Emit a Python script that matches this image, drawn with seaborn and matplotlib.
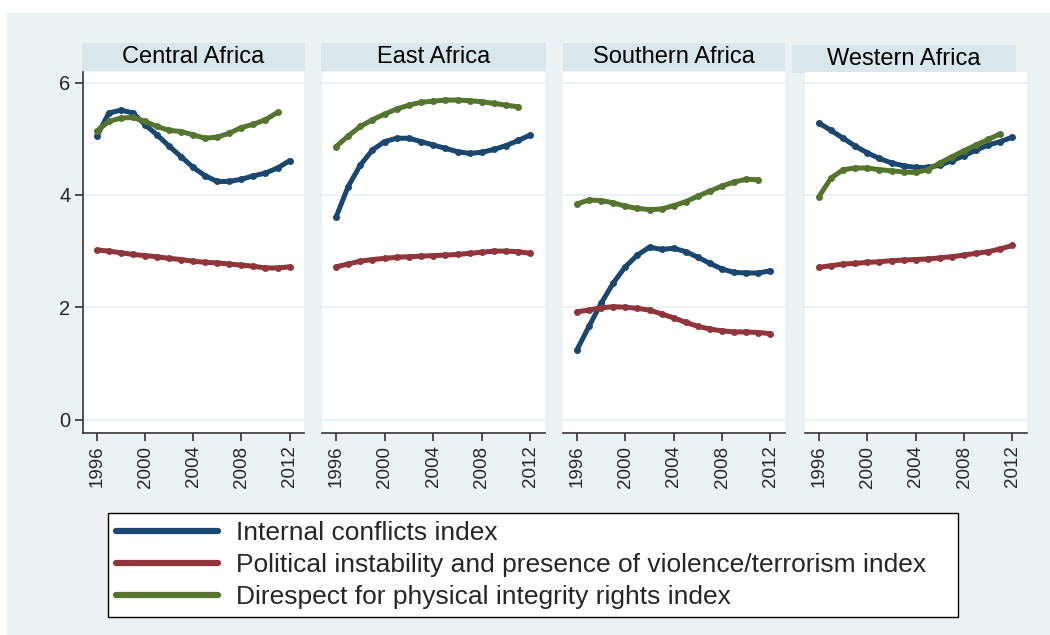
import numpy as np
import pandas as pd
import matplotlib
matplotlib.use("Agg")
import matplotlib.pyplot as plt
from matplotlib.patches import Rectangle
from matplotlib.lines import Line2D
import seaborn as sns

# Values
YEARS = list(range(1996, 2013))
REGIONS = ['Central Africa', 'East Africa', 'Southern Africa', 'Western Africa']
SERIES = [
    'Internal conflicts index',
    'Political instability and presence of violence/terrorism index',
    'Direspect for physical integrity rights index',
]

central_conflict = [5.05, 5.46, 5.51, 5.46, 5.25, 5.07, 4.87, 4.68, 4.49, 4.34, 4.24, 4.24, 4.28, 4.34, 4.39, 4.48, 4.61]
central_violence = [3.02, 3.00, 2.97, 2.94, 2.92, 2.90, 2.87, 2.85, 2.82, 2.80, 2.79, 2.77, 2.75, 2.73, 2.70, 2.70, 2.72]
central_rights = [5.14, 5.31, 5.37, 5.38, 5.31, 5.22, 5.15, 5.13, 5.07, 5.01, 5.03, 5.10, 5.20, 5.26, 5.34, 5.47]

east_conflict = [3.60, 4.15, 4.53, 4.80, 4.95, 5.01, 5.01, 4.95, 4.89, 4.83, 4.77, 4.74, 4.76, 4.81, 4.88, 4.97, 5.07]
east_violence = [2.72, 2.77, 2.82, 2.85, 2.87, 2.89, 2.90, 2.91, 2.92, 2.93, 2.94, 2.96, 2.98, 3.00, 3.00, 2.99, 2.96]
east_rights = [4.86, 5.05, 5.22, 5.34, 5.44, 5.53, 5.60, 5.65, 5.67, 5.69, 5.69, 5.68, 5.66, 5.63, 5.60, 5.57]

south_conflict = [1.24, 1.66, 2.07, 2.43, 2.72, 2.93, 3.07, 3.03, 3.05, 2.99, 2.89, 2.78, 2.68, 2.62, 2.61, 2.61, 2.65]
south_violence = [1.92, 1.95, 1.99, 2.01, 2.00, 1.98, 1.95, 1.88, 1.81, 1.73, 1.66, 1.61, 1.58, 1.56, 1.56, 1.55, 1.53]
south_rights = [3.84, 3.91, 3.90, 3.86, 3.80, 3.76, 3.74, 3.75, 3.81, 3.88, 3.98, 4.07, 4.16, 4.23, 4.28, 4.27]

west_conflict = [5.28, 5.15, 5.01, 4.87, 4.75, 4.65, 4.57, 4.52, 4.49, 4.49, 4.53, 4.61, 4.70, 4.80, 4.89, 4.95, 5.03]
west_violence = [2.71, 2.74, 2.77, 2.78, 2.80, 2.81, 2.83, 2.84, 2.85, 2.86, 2.88, 2.90, 2.93, 2.96, 2.99, 3.04, 3.10]
west_rights = [3.97, 4.30, 4.45, 4.48, 4.48, 4.45, 4.43, 4.41, 4.40, 4.45, 4.57, 4.68, 4.79, 4.89, 4.99, 5.09]

COLORS = ['#1a476f', '#90353b', '#55752f']
BG = '#eaf2f3'
STRIP = '#d9e6eb'

region_data = {
    'Central Africa': [central_conflict, central_violence, central_rights],
    'East Africa': [east_conflict, east_violence, east_rights],
    'Southern Africa': [south_conflict, south_violence, south_rights],
    'Western Africa': [west_conflict, west_violence, west_rights],
}

rows = []
for region, series_list in region_data.items():
    for name, vals in zip(SERIES, series_list):
        for yr, v in zip(YEARS, vals):
            rows.append({'region': region, 'index': name, 'year': yr, 'value': v})
df = pd.DataFrame(rows)

sns.set_style('white')
plt.rcParams['font.family'] = ['Liberation Sans', 'DejaVu Sans']

W, H = 1050, 635
fig = plt.figure(figsize=(W / 100, H / 100), dpi=100)
fig.patch.set_facecolor('white')


def fx(px):
    return px / W


def fy(py):
    return 1 - py / H


# graph region background, kept behind the axes
fig.patches.append(Rectangle((fx(7), 0), fx(1043), fy(13), transform=fig.transFigure,
                             facecolor=BG, edgecolor='none', zorder=-10))

# panel layout in pixels: (left, right) of plot area, strip box
panels = [
    (83, 304, (82, 305, 43, 71)),
    (322, 545, (321, 546, 43, 71)),
    (563, 785, (563, 785, 43, 71)),
    (805, 1027, (792, 1016, 45, 73)),
]
ax_top, ax_bot = 72, 433

for i, (region, (l, r, strip)) in enumerate(zip(REGIONS, panels)):
    ax = fig.add_axes([fx(l), fy(ax_bot), fx(r - l), (ax_bot - ax_top) / H], zorder=2)
    sub = df[df['region'] == region]
    sns.lineplot(data=sub, x='year', y='value', hue='index', hue_order=SERIES,
                 palette=COLORS, linewidth=3.6, marker='o', markersize=5,
                 markeredgewidth=0, ax=ax, legend=False, zorder=3)
    ax.set_xlim(1994.85, 2013.2)
    ax.set_ylim(-0.24, 6.19)
    ax.set_yticks([0, 2, 4, 6])
    ax.set_xticks([1996, 2000, 2004, 2008, 2012])
    ax.set_xticklabels(['1996', '2000', '2004', '2008', '2012'], rotation=90, fontsize=13.5)
    ax.grid(axis='y', color=BG, linewidth=1.6)
    ax.set_axisbelow(True)
    ax.set_xlabel('')
    ax.set_ylabel('')
    ax.set_facecolor('white')
    for s in ['top', 'right']:
        ax.spines[s].set_visible(False)
    ax.spines['bottom'].set_color('#333333')
    ax.spines['bottom'].set_linewidth(1.2)
    ax.tick_params(axis='x', direction='out', length=6, width=1.2, color='#333333', pad=3, bottom=True)
    if i == 0:
        ax.spines['left'].set_color('#333333')
        ax.spines['left'].set_linewidth(1.2)
        ax.tick_params(axis='y', direction='out', length=6, width=1.2, color='#333333',
                       labelsize=14.5, pad=3, left=True)
    else:
        ax.spines['left'].set_visible(False)
        ax.tick_params(axis='y', left=False, labelleft=False)

    sl, sr, st, sb = strip
    fig.patches.append(Rectangle((fx(sl), fy(sb)), fx(sr - sl), (sb - st) / H,
                                 transform=fig.transFigure, facecolor=STRIP,
                                 edgecolor='none', zorder=1))
    fig.text(fx((sl + sr) / 2), fy((st + sb) / 2), region, ha='center', va='center',
             fontsize=17, color='black')

handles = [Line2D([], [], color=c, linewidth=4.5) for c in COLORS]
leg = fig.legend(handles, SERIES, loc='upper left',
                 bbox_to_anchor=(fx(108), fy(513), fx(850), 0), mode='expand',
                 fontsize=19, frameon=True, fancybox=False, edgecolor='black',
                 framealpha=1, handlelength=3.85, handletextpad=0.7, labelspacing=0.3,
                 borderpad=0.3, borderaxespad=0)
leg.get_frame().set_linewidth(1.0)
leg.get_frame().set_facecolor('white')

fig.savefig('out.png', dpi=100)
